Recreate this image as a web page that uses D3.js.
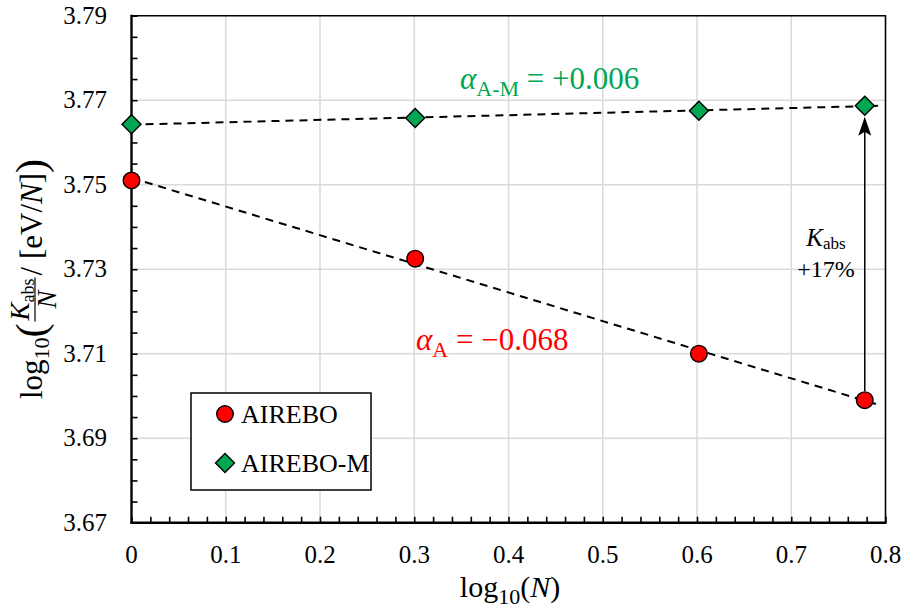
<!DOCTYPE html>
<html>
<head>
<meta charset="utf-8">
<script src="https://cdn.jsdelivr.net/npm/d3@7"></script>
<style>
  html, body { margin: 0; padding: 0; background: #fff; }
  svg text, svg tspan { font-family: "Liberation Serif", "DejaVu Serif", serif !important; }
</style>
</head>
<body>
<div id="chart"></div>
<script>
// data
const logN = [0, 0.301, 0.602, 0.778]
const airebo = [3.751, 3.7325, 3.710, 3.699]
const aireboM = [3.7643, 3.7658, 3.7675, 3.7687]
const xTicks = [0, 0.1, 0.2, 0.3, 0.4, 0.5, 0.6, 0.7, 0.8]
const yTicks = [3.67, 3.69, 3.71, 3.73, 3.75, 3.77, 3.79]
const slopeLabels = ["+0.006", "\u22120.068"]
const legendNames = ["AIREBO", "AIREBO-M"]

const width = 906
const height = 616
const red = "#ff0000"
const green = "#00a651"

const svg = d3.select("#chart").append("svg")
  .attr("width", width)
  .attr("height", height)

const x = d3.scaleLinear().domain([0, 0.8]).range([131.5, 885.5])
const y = d3.scaleLinear().domain([3.67, 3.79]).range([522.7, 15.7])

// grid
svg.append("g").selectAll("line")
  .data(xTicks.slice(1, -1))
  .enter().append("line")
  .attr("x1", d => x(d)).attr("x2", d => x(d))
  .attr("y1", y(3.67)).attr("y2", y(3.79))
  .attr("stroke", "#dadada").attr("stroke-width", 1.5)
svg.append("g").selectAll("line")
  .data(yTicks.slice(1, -1))
  .enter().append("line")
  .attr("x1", x(0)).attr("x2", x(0.8))
  .attr("y1", d => y(d)).attr("y2", d => y(d))
  .attr("stroke", "#dadada").attr("stroke-width", 1.5)

// frame top / right
svg.append("path")
  .attr("d", `M${x(0)},${y(3.79)}H${x(0.8)}V${y(3.67)}`)
  .attr("fill", "none").attr("stroke", "#000").attr("stroke-width", 1.6)

// axes with inward ticks
const xAxis = d3.axisBottom(x).ticks(40).tickSize(-6).tickFormat("")
const yAxis = d3.axisLeft(y).ticks(30).tickSize(-6).tickFormat("")
const gx = svg.append("g").attr("transform", `translate(0,${y(3.67)})`).call(xAxis)
const gy = svg.append("g").attr("transform", `translate(${x(0)},0)`).call(yAxis)
gx.selectAll("line").attr("stroke-width", 1.6)
gy.selectAll("line").attr("stroke-width", 1.6)
gx.select(".domain").attr("d", `M${x(0) - 1},0H${x(0.8) + 1}`).attr("stroke-width", 2.4)
gy.select(".domain").attr("d", `M0,${y(3.67) + 1}V${y(3.79) - 1}`).attr("stroke-width", 2.4)
svg.selectAll(".tick text").remove()

// tick labels
svg.append("g").selectAll("text")
  .data(xTicks).enter().append("text")
  .attr("x", d => x(d)).attr("y", 563)
  .attr("text-anchor", "middle").attr("font-size", 25)
  .text(d => d === 0 ? "0" : d3.format(".1f")(d))
svg.append("g").selectAll("text")
  .data(yTicks).enter().append("text")
  .attr("x", 107).attr("y", d => y(d) + 8)
  .attr("text-anchor", "end").attr("font-size", 25)
  .text(d => d3.format(".2f")(d))

// x label
const xl = svg.append("text").attr("x", 510).attr("y", 597)
  .attr("text-anchor", "middle").attr("font-size", 30)
xl.append("tspan").text("log")
xl.append("tspan").attr("dy", 7).attr("font-size", 22).text("10")
xl.append("tspan").attr("dy", -7).text("(")
xl.append("tspan").attr("font-style", "italic").text("N")
xl.append("tspan").text(")")

// y label (rotated, pieces laid out in sequence)
const yl = svg.append("g").attr("transform", "translate(42,279) rotate(-90)")
const part1 = yl.append("text").attr("font-size", 31)
part1.append("tspan").text("log")
part1.append("tspan").attr("dy", 7).attr("font-size", 22).text("10")
part1.append("tspan").attr("dy", -4).attr("font-size", 42).text("(")
let cur = part1.node().getComputedTextLength() + 2
const num = yl.append("text").attr("font-size", 27).attr("y", -13)
num.append("tspan").attr("font-style", "italic").text("K")
num.append("tspan").attr("dy", 5).attr("font-size", 18).text("abs")
const numW = num.node().getComputedTextLength()
num.attr("x", cur + 1)
const den = yl.append("text").attr("font-size", 27).attr("y", 14)
  .attr("font-style", "italic").text("N")
const denW = den.node().getComputedTextLength()
const fracW = Math.max(numW, denW) + 2
den.attr("x", cur + (fracW - denW) / 2)
yl.append("line").attr("x1", cur).attr("x2", cur + fracW)
  .attr("y1", -7).attr("y2", -7).attr("stroke", "#000").attr("stroke-width", 1.2)
cur += fracW + 2
const part2 = yl.append("text").attr("font-size", 31).attr("x", cur)
part2.append("tspan").text(" / [eV/")
part2.append("tspan").attr("font-style", "italic").text("N")
part2.append("tspan").text("]")
part2.append("tspan").attr("dy", 3).attr("font-size", 42).text(")")
cur += part2.node().getComputedTextLength()
yl.selectAll("text,line").attr("transform", `translate(${-cur / 2},0)`)

// least-squares fit lines from the data
function fit(xs, ys) {
  const mx = d3.mean(xs), my = d3.mean(ys)
  const sxy = d3.sum(xs, (v, i) => (v - mx) * (ys[i] - my))
  const sxx = d3.sum(xs, v => (v - mx) * (v - mx))
  const b = sxy / sxx
  return { a: my - b * mx, b: b }
}
const fits = [fit(logN, airebo), fit(logN, aireboM)]
const fitLine = d3.line().x(d => x(d[0])).y(d => y(d[1]))
fits.forEach(f => {
  svg.append("path")
    .attr("d", fitLine([[0, f.a], [0.792, f.a + f.b * 0.792]]))
    .attr("fill", "none").attr("stroke", "#000")
    .attr("stroke-width", 2).attr("stroke-dasharray", "8,6")
})

// arrow between last points
const xa = x(logN[3])
svg.append("line")
  .attr("x1", xa).attr("x2", xa)
  .attr("y1", y(airebo[3]) - 9).attr("y2", y(aireboM[3]) + 22)
  .attr("stroke", "#000").attr("stroke-width", 1.5)
const tip = y(aireboM[3]) + 11
svg.append("path")
  .attr("d", `M${xa},${tip}L${xa + 6.5},${tip + 19}L${xa},${tip + 15}L${xa - 6.5},${tip + 19}Z`)
  .attr("fill", "#000")

const kl = svg.append("text").attr("x", 826).attr("y", 246)
  .attr("text-anchor", "middle").attr("font-size", 25)
kl.append("tspan").attr("font-style", "italic").text("K")
kl.append("tspan").attr("dy", 3).attr("font-size", 17).text("abs")
svg.append("text").attr("x", 826).attr("y", 277)
  .attr("text-anchor", "middle").attr("font-size", 24).text("+17%")

// slope labels
const lm = svg.append("text").attr("x", 460).attr("y", 89)
  .attr("font-size", 31).attr("fill", green)
lm.append("tspan").attr("font-style", "italic").text("\u03b1")
lm.append("tspan").attr("dy", 7).attr("font-size", 22).text("A-M")
lm.append("tspan").attr("dy", -7).text(" = " + slopeLabels[0])
const la = svg.append("text").attr("x", 416).attr("y", 350)
  .attr("font-size", 31).attr("fill", red)
la.append("tspan").attr("font-style", "italic").text("\u03b1")
la.append("tspan").attr("dy", 7).attr("font-size", 22).text("A")
la.append("tspan").attr("dy", -7).text(" = " + slopeLabels[1])

// markers
const diamond = d3.symbol().type(d3.symbolSquare).size(180)
svg.append("g").selectAll("circle")
  .data(logN).enter().append("circle")
  .attr("cx", d => x(d)).attr("cy", (d, i) => y(airebo[i]))
  .attr("r", 8.3).attr("fill", red).attr("stroke", "#000").attr("stroke-width", 1.4)
svg.append("g").selectAll("path")
  .data(logN).enter().append("path")
  .attr("d", diamond)
  .attr("transform", (d, i) => `translate(${x(d)},${y(aireboM[i])}) rotate(45)`)
  .attr("fill", green).attr("stroke", "#000").attr("stroke-width", 1.4)

// legend
const lg = svg.append("g")
lg.append("rect").attr("x", 191).attr("y", 393).attr("width", 180).attr("height", 97)
  .attr("fill", "#fff").attr("stroke", "#000").attr("stroke-width", 1.5)
lg.append("circle").attr("cx", 225).attr("cy", 414).attr("r", 8.3)
  .attr("fill", red).attr("stroke", "#000").attr("stroke-width", 1.4)
lg.append("path").attr("d", diamond)
  .attr("transform", "translate(225,463) rotate(45)")
  .attr("fill", green).attr("stroke", "#000").attr("stroke-width", 1.4)
lg.selectAll("text").data(legendNames).enter().append("text")
  .attr("x", 241).attr("y", (d, i) => 423 + i * 49)
  .attr("font-size", 26).text(d => d)
</script>
</body>
</html>
